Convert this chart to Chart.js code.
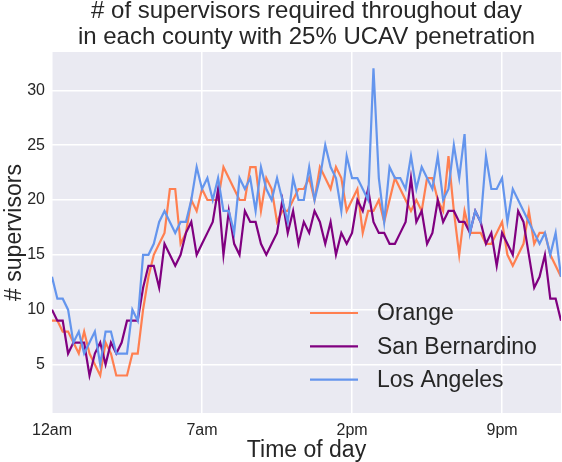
<!DOCTYPE html>
<html>
<head>
<meta charset="utf-8">
<script src="https://cdn.jsdelivr.net/npm/chart.js@4.4.1/dist/chart.umd.min.js"></script>
<style>
  html, body { margin: 0; padding: 0; background: #fff; }
</style>
</head>
<body>
<canvas id="myChart" width="562" height="462"></canvas>
<script>
// supervisors needed per 15-minute slot
var orange = [9,9,8,8,7,6,8,6,5,4, 7,6,4,4,4,6,6,10,13,15,
  16,17,21,21,16,17,20,19,21,20, 20,20,23,22,21,20,20,23,23,19,
  22,21,18,19,19,20,21,21,22,20, 23,22,21,23,22,19,20,21,17,19,
  19,20,18,20,22,21,20,19,20,19, 22,22,20,19,24,19,15,19,17,17,
  17,16,16,17,18,15,14,15,16,19, 16,17,17,15,14,13]
var sanBernardino = [10,9,9,6,7,7,7,4,6,7, 5,7,6,7,9,9,9,12,14,14,
  12,16,15,14,15,17,18,15,16,17, 18,21,15,19,16,15,19,18,18,16,
  15,16,17,20,17,19,16,18,17,19, 18,16,18,15,17,16,17,20,19,21,
  18,17,17,16,16,17,18,22,18,19, 16,17,20,18,19,19,18,18,17,19,
  18,16,17,14,17,16,15,19,18,15, 12,13,15,11,11,9]
var losAngeles = [13,11,11,10,7,8,6,7,8,5, 8,8,6,6,6,10,9,15,15,16,
  18,19,18,17,18,18,20,23,21,22, 20,22,19,19,17,22,21,22,19,23,
  21,20,22,20,18,22,20,20,23,20, 22,25,23,22,19,24,22,22,21,20,
  32,22,18,23,22,22,21,24,21,23, 22,21,24,20,21,25,22,26,17,19,
  18,24,21,21,22,18,21,20,19,18, 17,16,17,15,17,13]

var tickHours = [0, 7, 14, 21]
var tickLabels = ["12am", "7am", "2pm", "9pm"]
var yTicks = [5, 10, 15, 20, 25, 30]
var titleLines = ["# of supervisors required throughout day", "in each county with 25% UCAV penetration"]

var FONT = "'Liberation Sans', Arial, sans-serif"
var INK = "#262626"

// slot i starts at i quarter hours after midnight
function points(arr) {
  return arr.map(function (v, i) { return { x: i * 0.25, y: v } })
}

var bgPlugin = {
  id: "bg",
  beforeDraw: function (chart) {
    var a = chart.chartArea, ctx = chart.ctx
    ctx.save()
    ctx.fillStyle = "#EAEAF2"
    ctx.fillRect(a.left, a.top, a.right - a.left, a.bottom - a.top)
    ctx.restore()
  }
}

// title centred over the plot area (matplotlib style), not the whole canvas
var titlePlugin = {
  id: "axTitle",
  afterDraw: function (chart) {
    var a = chart.chartArea, ctx = chart.ctx
    ctx.save()
    ctx.font = "24px " + FONT
    ctx.fillStyle = INK
    ctx.textAlign = "center"
    ctx.textBaseline = "alphabetic"
    titleLines.forEach(function (t, i) {
      ctx.fillText(t, (a.left + a.right) / 2, 18 + i * 26)
    })
    ctx.restore()
  }
}

// legend without frame, drawn straight onto the plot like seaborn does
var legendPlugin = {
  id: "plainLegend",
  afterDraw: function (chart) {
    var ctx = chart.ctx
    ctx.save()
    ctx.font = "23px " + FONT
    ctx.textBaseline = "middle"
    ctx.fillStyle = INK
    chart.data.datasets.forEach(function (ds, i) {
      var y = 313 + i * 33.3
      ctx.strokeStyle = ds.borderColor
      ctx.lineWidth = 2.2
      ctx.beginPath()
      ctx.moveTo(310, y)
      ctx.lineTo(358, y)
      ctx.stroke()
      ctx.fillText(ds.label, 377, y + 1)
    })
    ctx.restore()
  }
}

var ctx = document.getElementById("myChart").getContext("2d")
var chart = new Chart(ctx, {
  type: "line",
  data: {
    datasets: [
      { label: "Orange", data: points(orange), borderColor: "#FF7F50", order: 2 },
      { label: "San Bernardino", data: points(sanBernardino), borderColor: "#800080", order: 1 },
      { label: "Los Angeles", data: points(losAngeles), borderColor: "#6495ED", order: 0 }
    ]
  },
  options: {
    responsive: false,
    animation: false,
    devicePixelRatio: 1,
    layout: { padding: { top: 52, right: 1, left: 0, bottom: 0 } },
    elements: {
      line: { borderWidth: 2.2, tension: 0, fill: false },
      point: { radius: 0 }
    },
    plugins: {
      legend: { display: false },
      tooltip: { enabled: false },
      title: { display: false }
    },
    scales: {
      x: {
        type: "linear",
        min: 0,
        max: 23.75,
        afterBuildTicks: function (s) { s.ticks = tickHours.map(function (h) { return { value: h } }) },
        afterFit: function (s) { s.height = 49 },
        grid: { color: "#fff", lineWidth: 1.5, drawTicks: false },
        border: { display: false },
        ticks: {
          autoSkip: false, maxRotation: 0, padding: 8, color: INK,
          font: { family: FONT, size: 16 },
          callback: function (v) { return tickLabels[tickHours.indexOf(v)] }
        },
        title: {
          display: true, text: "Time of day", color: INK,
          font: { family: FONT, size: 23, lineHeight: 1 },
          padding: { top: 0, bottom: 0 }
        }
      },
      y: {
        min: 0.58,
        max: 33.49,
        afterBuildTicks: function (s) { s.ticks = yTicks.map(function (v) { return { value: v } }) },
        afterFit: function (s) { s.width = 52 },
        grid: { color: "#fff", lineWidth: 1.5, drawTicks: false },
        border: { display: false },
        ticks: { padding: 7, color: INK, font: { family: FONT, size: 16 } },
        title: {
          display: true, text: "# supervisors", color: INK,
          font: { family: FONT, size: 23, lineHeight: 1 },
          padding: { top: 3, bottom: 0 }
        }
      }
    }
  },
  plugins: [bgPlugin, titlePlugin, legendPlugin]
})
</script>
</body>
</html>
